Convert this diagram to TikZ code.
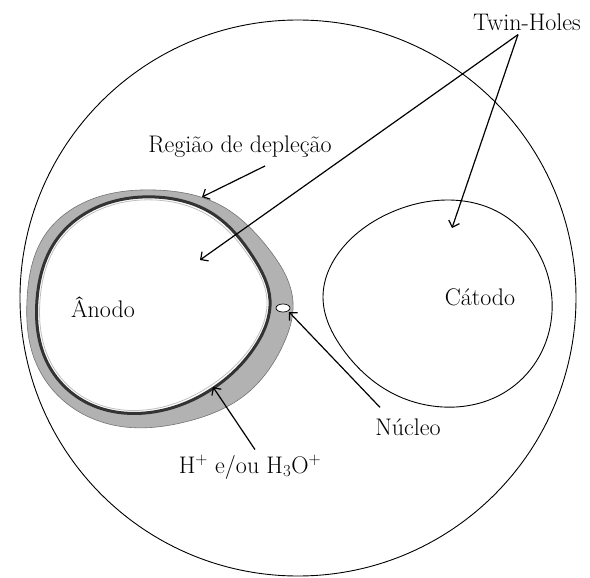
\documentclass[tikz,border=0pt]{standalone}
\usepackage{tikz}
\usetikzlibrary{arrows.meta,hobby}

\tikzset{
  lbl/.style={font=\fontsize{24}{28}\selectfont,inner sep=1pt},
  ptr/.style={line width=1.2pt,-{Straight Barb[angle=90:8pt,line width=1.2pt]}},
}

\begin{document}
\begin{tikzpicture}[x=1pt,y=-1pt,use Hobby shortcut]
\useasboundingbox (0,0) rectangle (590,578);
% outer circle
\draw[line width=.9pt] (298,298) circle (278);
% anode: gray depletion band, dark ring, white interior
\fill[black!30,draw=black!55,line width=.6pt,closed=true]
  (27,300) .. (45,235) .. (95,198) .. (155,190) .. (220,205) .. (268,248) .. (293,302)
  .. (283,345) .. (245,395) .. (185,422) .. (125,427) .. (65,402) .. (33,355);
\draw[fill=white,draw=black!80,line width=3pt,closed=true]
  (37,300) .. (55,242) .. (100,206) .. (155,197) .. (213,214) .. (253,257) .. (270,300)
  .. (256,345) .. (212,389) .. (145,413) .. (82,400) .. (46,360);
\draw[draw=black!25,line width=.8pt,closed=true]
  (40,300) .. (58,243) .. (101,209) .. (155,200) .. (211,217) .. (250,258) .. (267,300)
  .. (253,344) .. (210,386) .. (145,410) .. (83,397) .. (49,359);
% cathode
\draw[line width=.9pt,closed=true]
  (323,297) .. (342,348) .. (390,392) .. (443,407) .. (500,395) .. (540,355) .. (552,300)
  .. (538,252) .. (500,213) .. (447,200) .. (392,212) .. (345,245);
% nucleus
\draw[fill=white,line width=.7pt] (283,308) ellipse (7 and 4);
% labels
\node[lbl] (twin) at (527,22) {Twin-Holes};
\node[lbl] (regiao) at (240,147) {Região de depleção};
\node[lbl] (anodo) at (103,307) {Ânodo};
\node[lbl] (catodo) at (480,297) {Cátodo};
\node[lbl] (nucleo) at (408,427) {Núcleo};
\node[lbl] (ions) at (250,467) {H\textsuperscript{+} e/ou H\textsubscript{3}O\textsuperscript{+}};
% arrow targets
\coordinate (holeA) at (200,260);
\coordinate (holeC) at (452,228);
\coordinate (band) at (202,197);
\coordinate (nuc) at (289,312);
\coordinate (ring) at (213,387);
% arrows
\draw[ptr] ([xshift=-9pt,yshift=-3pt]twin.south) -- (holeA);
\draw[ptr] ([xshift=-9pt,yshift=-3pt]twin.south) -- (holeC);
\draw[ptr] ([xshift=25pt,yshift=-7pt]regiao.south) -- (band);
\draw[ptr] ([xshift=-28pt,yshift=10pt]nucleo.north) -- (nuc);
\draw[ptr] ([xshift=5pt,yshift=4pt]ions.north) -- (ring);
\end{tikzpicture}
\end{document}
